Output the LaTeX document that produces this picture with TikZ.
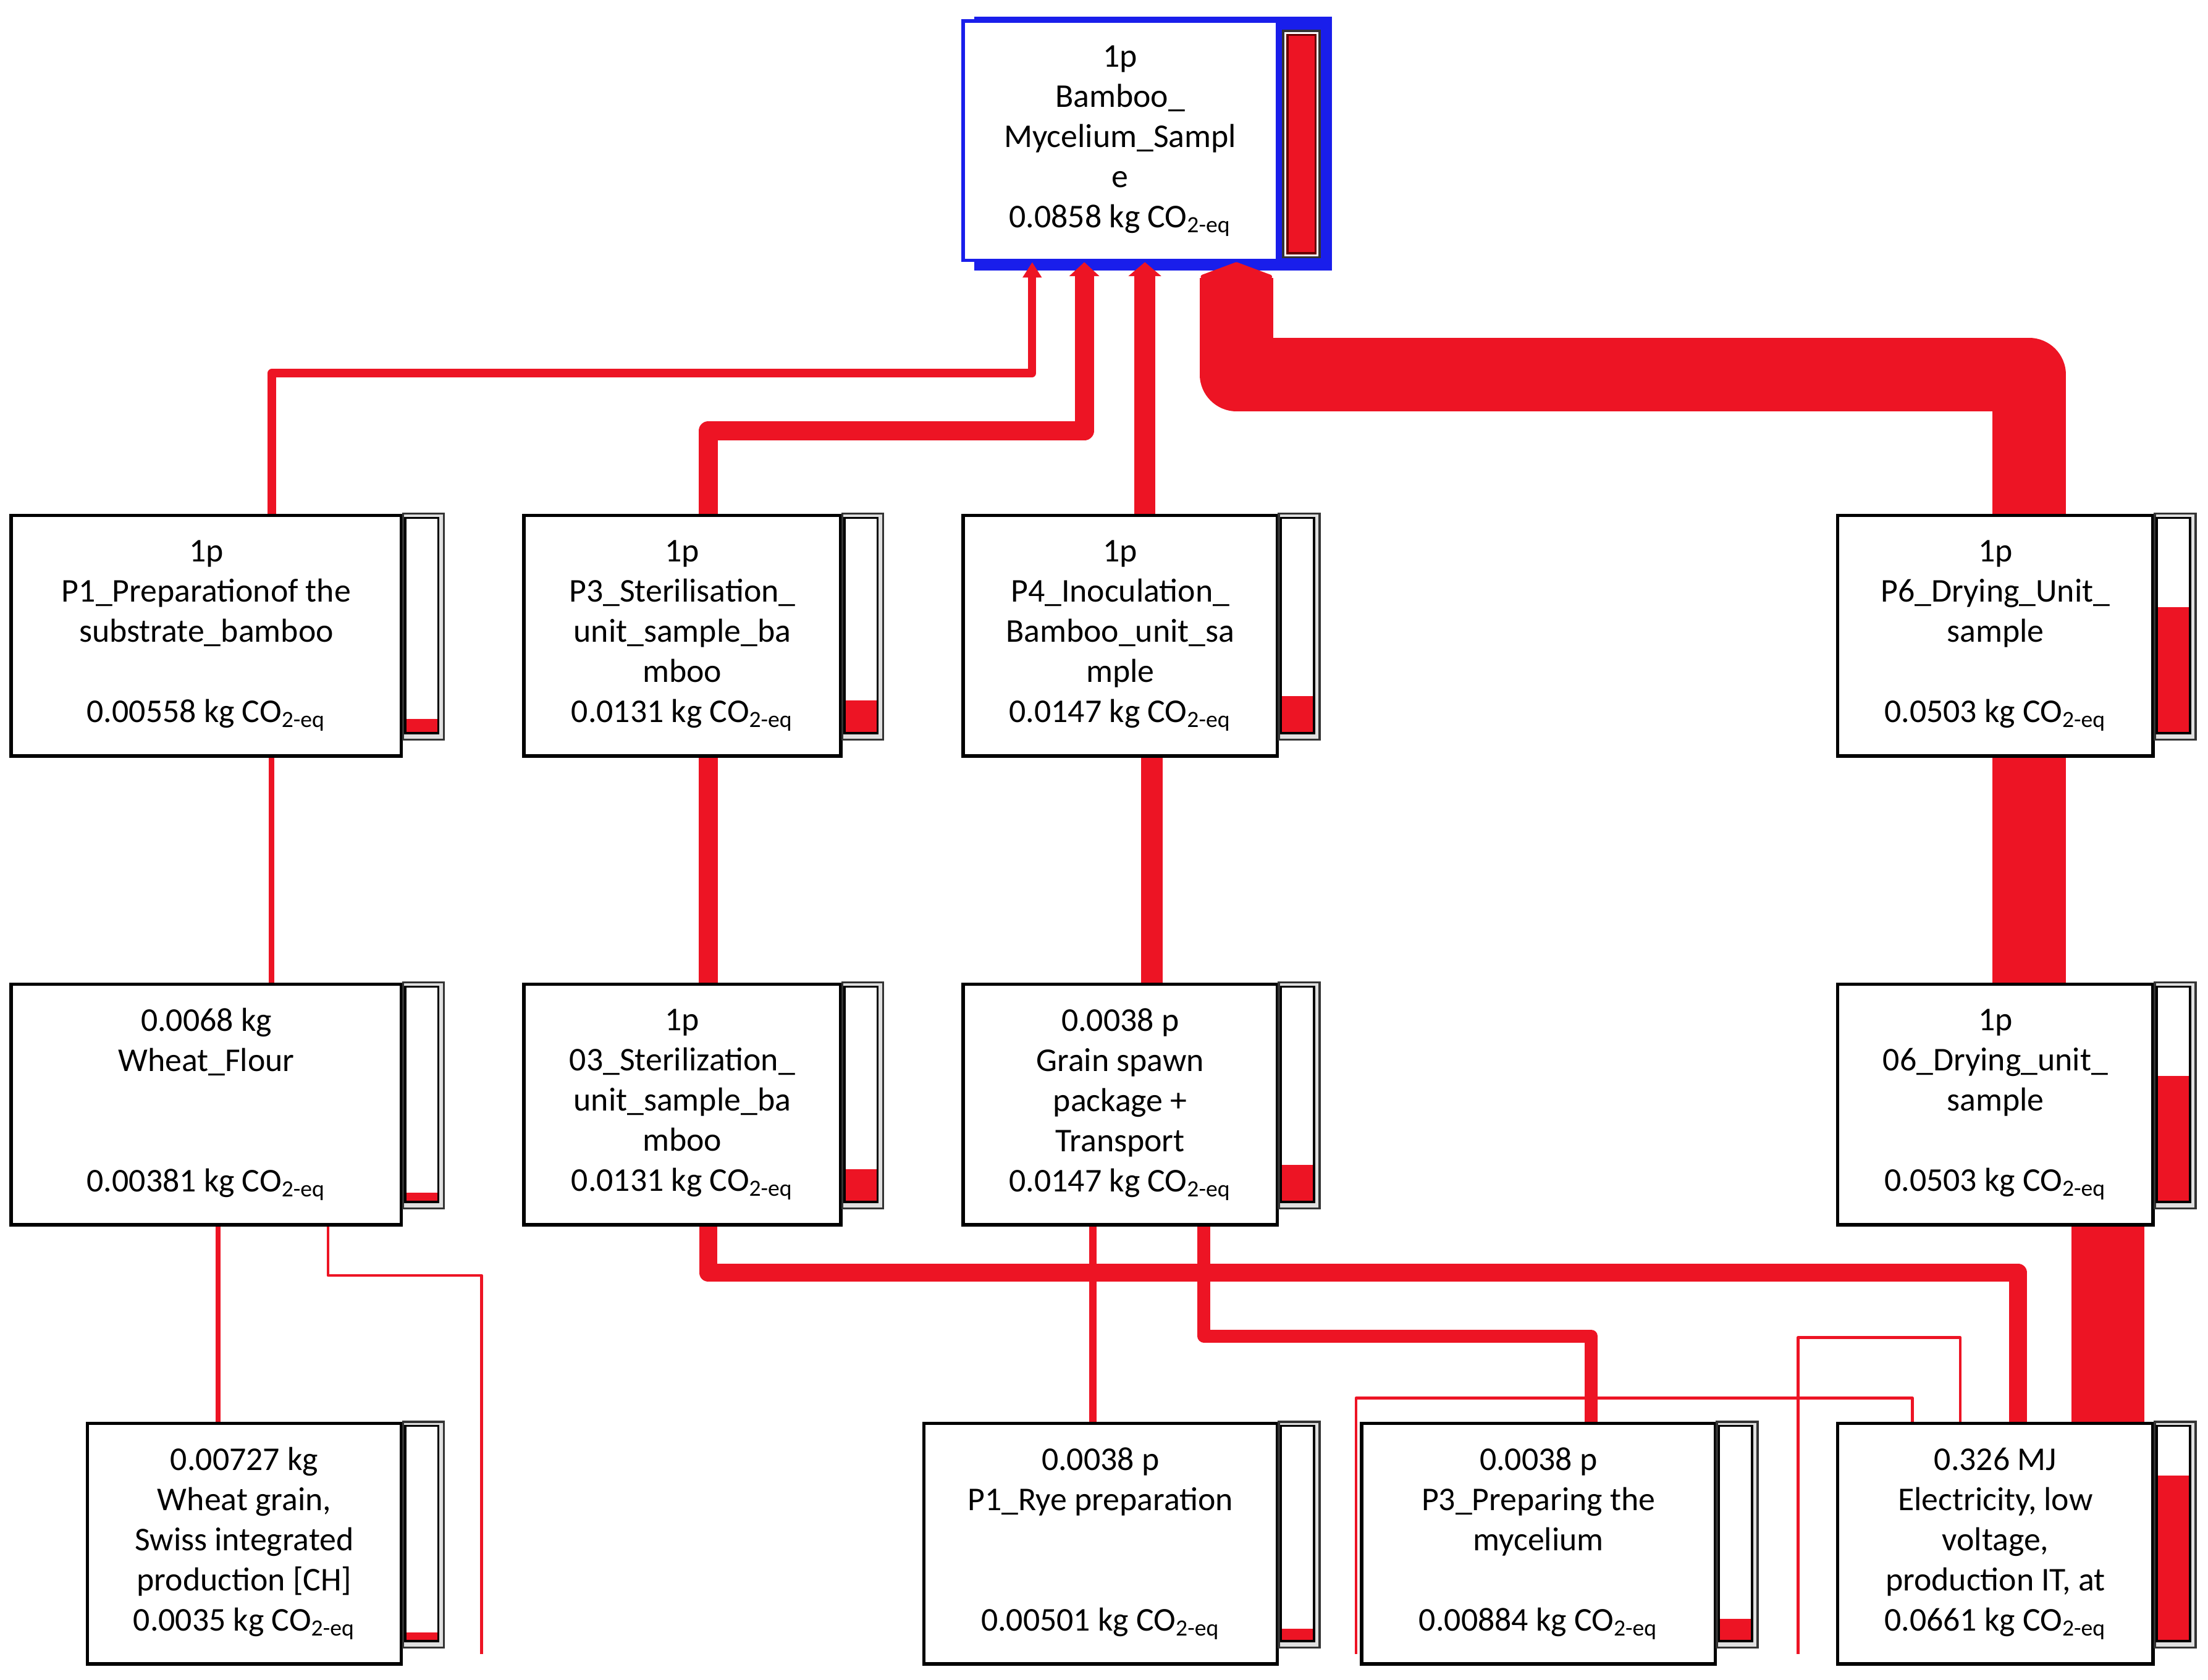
\documentclass[tikz,border=0pt]{standalone}
\usepackage{fontspec}
\setmainfont{Carlito}
\usetikzlibrary{arrows.meta,calc}
\definecolor{flowred}{RGB}{237,20,36}
\definecolor{mcblue}{RGB}{25,30,235}

\begin{document}
\begin{tikzpicture}[
    x=0.5pt, y=-0.5pt,
    proc/.style={rectangle, draw, line width=1.2pt, fill=white, minimum height=85.5pt, inner sep=0pt, align=center, font=\fontsize{11.8pt}{14.25pt}\selectfont},
    flow/.style={draw=flowred, line join=round},
    barframe/.style={draw=black!80, line width=0.8pt, fill=black!12},
    barinner/.style={draw=black, line width=0.8pt}
  ]
  \useasboundingbox (0,0) rectangle (1568,1193);

  % Top process
  \fill[mcblue] (692,12) rectangle (946,192);
  \node[proc, draw=mcblue, minimum width=111.5pt, minimum height=85pt] (top) at (795.5,100) {1p\\Bamboo\_\\Mycelium\_Sampl\\e\\0.0858 kg CO\textsubscript{2-eq}};
  \draw[barframe, fill=white] ($(top.north east)+(3,8)$) rectangle ++(26,161);
  \draw[draw=black!60!red, line width=0.8pt, fill=flowred] ($(top.north east)+(6,11)$) rectangle ++(20,155);

  % Second row
  \node[proc, minimum width=138.5pt] (p1) at (146.5,451.5) {1p\\P1\_Preparationof the\\substrate\_bamboo\\\mbox{}\\0.00558 kg CO\textsubscript{2-eq}};
  \node[proc, minimum width=112.5pt] (p3) at (484.5,451.5) {1p\\P3\_Sterilisation\_\\unit\_sample\_ba\\mboo\\0.0131 kg CO\textsubscript{2-eq}};
  \node[proc, minimum width=111.5pt] (p4) at (795.5,451.5) {1p\\P4\_Inoculation\_\\Bamboo\_unit\_sa\\mple\\0.0147 kg CO\textsubscript{2-eq}};
  \node[proc, minimum width=112pt] (p6) at (1417,451.5) {1p\\P6\_Drying\_Unit\_\\sample\\\mbox{}\\0.0503 kg CO\textsubscript{2-eq}};

  % Third row
  \node[proc, minimum width=138.5pt] (flour) at (146.5,784.5) {0.0068 kg\\Wheat\_Flour\\\mbox{}\\\mbox{}\\0.00381 kg CO\textsubscript{2-eq}};
  \node[proc, minimum width=112.5pt] (s03) at (484.5,784.5) {1p\\03\_Sterilization\_\\unit\_sample\_ba\\mboo\\0.0131 kg CO\textsubscript{2-eq}};
  \node[proc, minimum width=111.5pt] (spawn) at (795.5,784.5) {0.0038 p\\Grain spawn\\package +\\Transport\\0.0147 kg CO\textsubscript{2-eq}};
  \node[proc, minimum width=112pt] (d06) at (1417,784.5) {1p\\06\_Drying\_unit\_\\sample\\\mbox{}\\0.0503 kg CO\textsubscript{2-eq}};

  % Bottom row
  \node[proc, minimum width=111.5pt] (grain) at (173.5,1096.5) {0.00727 kg\\Wheat grain,\\Swiss integrated\\production [CH]\\0.0035 kg CO\textsubscript{2-eq}};
  \node[proc, minimum width=125.5pt] (rye) at (781.5,1096.5) {0.0038 p\\P1\_Rye preparation\\\mbox{}\\\mbox{}\\0.00501 kg CO\textsubscript{2-eq}};
  \node[proc, minimum width=125.5pt] (mycel) at (1092.5,1096.5) {0.0038 p\\P3\_Preparing the\\mycelium\\\mbox{}\\0.00884 kg CO\textsubscript{2-eq}};
  \node[proc, minimum width=112pt] (elec) at (1417,1096.5) {0.326 MJ\\Electricity, low\\voltage,\\production IT, at\\0.0661 kg CO\textsubscript{2-eq}};

  % Score bars
  \foreach \n/\f in {p1/0.065, p3/0.153, p4/0.171, p6/0.586, flour/0.044, s03/0.153, spawn/0.171, d06/0.586, grain/0.041, rye/0.058, mycel/0.103, elec/0.770} {
    \draw[barframe] (\n.north east) rectangle ++(29,160.5);
    \fill[white] ($(\n.north east)+(1.5,3)$) rectangle ++(23.5,153);
    \fill[flowred] ($(\n.north east)+(1.5,156)$) rectangle ++(23.5,{-153*\f});
    \draw[barinner] ($(\n.north east)+(1.5,3)$) rectangle ++(23.5,153);
  }

  % Cut-off ends
  \coordinate (cut1) at (342,1175);
  \coordinate (cut2) at (963,1175);
  \coordinate (cut3) at (1277,1175);

  % Flows into the top process
  \draw[flow, line width=2.9pt, -{Triangle[length=5.5pt,width=6.5pt]}] (193,0 |- p1.north) |- (733,265) -- (733,0 |- top.south);
  \draw[flow, line width=6.8pt, -{Triangle[length=5pt,width=10.5pt]}] (503,0 |- p3.north) |- (770,306) -- (770,0 |- top.south);
  \draw[flow, line width=7.6pt, -{Triangle[length=5pt,width=11.5pt]}] (813,0 |- p4.north) -- (813,0 |- top.south);
  \draw[flow, line width=26pt, -{Triangle[length=6pt,width=32pt,round]}] (1441,0 |- p6.north) |- (878,266) -- (878,0 |- top.south);

  % Second row to third row
  \draw[flow, line width=2pt] (193,0 |- p1.south) -- (193,0 |- flour.north);
  \draw[flow, line width=6.8pt] (503,0 |- p3.south) -- (503,0 |- s03.north);
  \draw[flow, line width=7.6pt] (818,0 |- p4.south) -- (818,0 |- spawn.north);
  \draw[flow, line width=26pt] (1441,0 |- p6.south) -- (1441,0 |- d06.north);

  % Third row to bottom row
  \draw[flow, line width=1.8pt] (155,0 |- flour.south) -- (155,0 |- grain.north);
  \draw[flow, line width=1pt] (233,0 |- flour.south) |- (342,906) -- (cut1);
  \draw[flow, line width=6.5pt] (503,0 |- s03.south) |- (1433,904) -- (1433,0 |- elec.north);
  \draw[flow, line width=2.6pt] (776,0 |- spawn.south) -- (776,0 |- rye.north);
  \draw[flow, line width=4.6pt] (855,0 |- spawn.south) |- (1130,949) -- (1130,0 |- mycel.north);
  \draw[flow, line width=26pt] (1497,0 |- d06.south) -- (1497,0 |- elec.north);
  \draw[flow, line width=1pt] (1358,0 |- elec.north) |- (963,993) -- (cut2);
  \draw[flow, line width=1pt] (1392,0 |- elec.north) |- (1277,950) -- (cut3);

\end{tikzpicture}
\end{document}
